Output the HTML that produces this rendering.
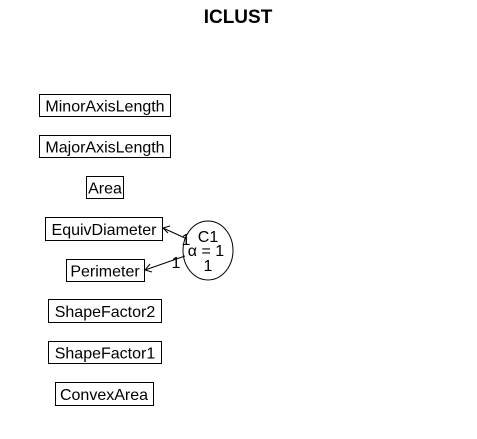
<!DOCTYPE html>
<html><head><style>body{margin:0;background:#fff}svg{display:block}text{font-family:"Liberation Sans",sans-serif}</style></head>
<body>
<svg width="477" height="439" viewBox="0 0 477 439" xmlns="http://www.w3.org/2000/svg">
<text x="238" y="23" font-size="19" font-weight="bold" text-anchor="middle">ICLUST</text>
<g fill="#fff" stroke="#000" stroke-width="1">
<rect x="39.5" y="94.5" width="131" height="22"/>
<rect x="39.5" y="135.5" width="131" height="22"/>
<rect x="86.5" y="176.5" width="37" height="22"/>
<rect x="45.5" y="217.5" width="117" height="23"/>
<rect x="66.5" y="259.5" width="78" height="22"/>
<rect x="48.5" y="299.5" width="113" height="23"/>
<rect x="48.5" y="341.5" width="113" height="22"/>
<rect x="55.5" y="382.5" width="98" height="23"/>
<ellipse cx="208" cy="250.5" rx="25" ry="29.5"/>
</g>
<g font-size="16" text-anchor="middle">
<text x="105" y="111.5">MinorAxisLength</text>
<text x="105" y="152.5">MajorAxisLength</text>
<text x="105" y="193.5">Area</text>
<text x="104" y="235">EquivDiameter</text>
<text x="105" y="276.5">Perimeter</text>
<text x="105" y="317">ShapeFactor2</text>
<text x="105" y="358.5">ShapeFactor1</text>
<text x="104" y="400">ConvexArea</text>
<text x="208" y="242">C1</text>
<text x="206" y="256">α = 1</text>
<text x="208" y="271">1</text>
<text x="186" y="245">1</text>
<text x="176" y="268">1</text>
</g>
<g stroke="#000" stroke-width="1" fill="none">
<line x1="185" y1="238" x2="163" y2="228"/>
<polyline points="170,226 163,228 168,233"/>
<line x1="185" y1="256" x2="145" y2="270"/>
<polyline points="150,264 145,270 152,272"/>
</g>
</svg>
</body></html>
